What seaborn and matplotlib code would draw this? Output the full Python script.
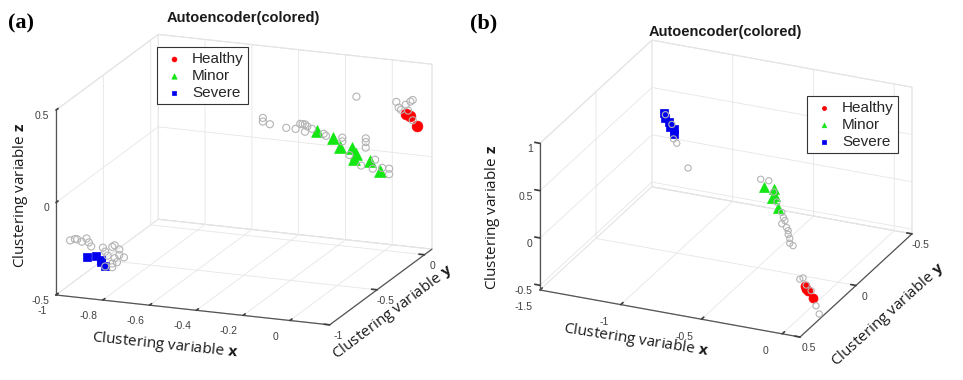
import numpy as np
import matplotlib
matplotlib.use("Agg")
import matplotlib.pyplot as plt
import seaborn as sns
from mpl_toolkits.mplot3d import proj3d
from matplotlib.ticker import FixedLocator, FuncFormatter, NullFormatter

# ---------------- data : panel (a) ----------------
a_gray_x = [-0.46, -0.46, -0.43, -0.36, -0.32, -0.30, -0.29, -0.28, -0.27, -0.28, -0.25, -0.20, -0.19,
            -0.12, -0.12, -0.02, -0.02, -0.02, -0.09, -0.04, 0.02, 0.01, 0.05, 0.08, 0.08, -0.06,
            0.05, 0.06, 0.07, 0.09, 0.11, 0.12, 0.10, 0.12,
            -0.98, -0.96, -0.95, -0.93, -0.91, -0.90, -0.89, -0.84, -0.83, -0.80, -0.79, -0.77,
            -0.77, -0.75, -0.79, -0.80, -0.78, -0.83, -0.80, -0.82]
a_gray_y = [-0.15, -0.15, -0.15, -0.15, -0.15, -0.15, -0.15, -0.15, -0.15, -0.15, -0.15, -0.15, -0.15,
            -0.15, -0.15, -0.15, -0.15, -0.15, -0.15, -0.15, -0.15, -0.15, -0.15, -0.15, -0.15, -0.15,
            0.0, 0.0, 0.0, 0.0, 0.0, 0.0, 0.0, 0.0,
            -0.9, -0.9, -0.9, -0.9, -0.9, -0.9, -0.9, -0.9, -0.9, -0.9, -0.9, -0.9,
            -0.9, -0.9, -0.9, -0.9, -0.9, -0.9, -0.9, -0.9]
a_gray_z = [0.21, 0.19, 0.18, 0.17, 0.17, 0.20, 0.20, 0.20, 0.19, 0.16, 0.18, 0.16, 0.15,
            0.15, 0.13, 0.16, 0.14, 0.11, 0.06, 0.01, 0.05, 0.00, 0.01, 0.01, -0.02, 0.38,
            0.31, 0.28, 0.27, 0.30, 0.32, 0.33, 0.27, 0.22,
            -0.24, -0.23, -0.23, -0.24, -0.22, -0.24, -0.26, -0.26, -0.28, -0.25, -0.24, -0.26,
            -0.29, -0.30, -0.31, -0.34, -0.33, -0.36, -0.36, -0.30]
a_healthy_x = [0.09, 0.11, 0.14]
a_healthy_y = [0.0, 0.0, 0.0]
a_healthy_z = [0.25, 0.24, 0.19]
a_minor_x = [-0.23, -0.16, -0.13, -0.08, -0.06, -0.07, 0.00, 0.04]
a_minor_y = [-0.15, -0.15, -0.15, -0.15, -0.15, -0.15, -0.15, -0.15]
a_minor_z = [0.17, 0.14, 0.10, 0.10, 0.07, 0.04, 0.04, -0.01]
a_severe_x = [-0.91, -0.87, -0.85, -0.85, -0.83]
a_severe_y = [-0.9, -0.9, -0.9, -0.9, -0.9]
a_severe_z = [-0.32, -0.31, -0.33, -0.34, -0.36]

# ---------------- data : panel (b) ----------------
b_gray_x = [-1.07, -1.03, -1.02, -1.00, -0.93,
            -0.48, -0.43, -0.40, -0.38, -0.35, -0.34, -0.35, -0.32, -0.31, -0.30, -0.30, -0.28, -0.33, -0.31,
            -0.03, -0.01, 0.01, 0.04, 0.07, 0.09]
b_gray_y = [0.0, 0.0, 0.0, 0.0, 0.0,
            0.0, 0.0, 0.0, 0.0, 0.0, 0.0, 0.0, 0.0, 0.0, 0.0, 0.0, 0.0, 0.0, 0.0,
            0.3, 0.3, 0.3, 0.3, 0.3, 0.3]
b_gray_z = [0.89, 0.80, 0.65, 0.61, 0.37,
            0.39, 0.39, 0.28, 0.18, 0.08, 0.03, -0.04, -0.07, -0.14, -0.18, -0.23, -0.25, 0.00, -0.10,
            -0.20, -0.18, -0.25, -0.30, -0.45, -0.53]
b_healthy_x = [0.00, 0.02, 0.05, 0.01]
b_healthy_y = [0.3, 0.3, 0.3, 0.3]
b_healthy_z = [-0.26, -0.31, -0.37, -0.29]
b_minor_x = [-0.46, -0.40, -0.39, -0.41, -0.37]
b_minor_y = [0.0, 0.0, 0.0, 0.0, 0.0]
b_minor_z = [0.31, 0.31, 0.24, 0.21, 0.12]
b_severe_x = [-1.08, -1.07, -1.05, -1.04, -1.02, -1.02]
b_severe_y = [0.0, 0.0, 0.0, 0.0, 0.0, 0.0]
b_severe_z = [0.90, 0.86, 0.82, 0.77, 0.75, 0.70]

class_names = ["Healthy", "Minor", "Severe"]
title_text = "Autoencoder(colored)"
a_xticks = [-1, -0.8, -0.6, -0.4, -0.2, 0]
a_yticks = [-1, -0.5, 0]
a_zticks = [-0.5, 0, 0.5]
b_xticks = [-1.5, -1, -0.5, 0]
b_yticks = [-0.5, 0, 0.5]
b_zticks = [-0.5, 0, 0.5, 1]

# ---------------- style ----------------
sns.set_theme(style="white")
plt.rcParams["font.family"] = ["Liberation Sans", "DejaVu Sans"]
plt.rcParams["axes.unicode_minus"] = False
plt.rcParams["mathtext.fontset"] = "custom"
plt.rcParams["mathtext.rm"] = "Open Sans"
plt.rcParams["mathtext.bf"] = "Open Sans:bold"

palette = sns.color_palette(["#ff0000", "#14e614", "#0000ee"])
GRAY = "#b4b4b4"
TICK_COLOR = "#404040"

W, H = 963, 380
fig = plt.figure(figsize=(W / 100, H / 100), dpi=100)


def style_axes(ax, xt, yt, zt):
    fmt = FuncFormatter(lambda v, _: f"{v:g}")
    for axis, t in ((ax.xaxis, xt), (ax.yaxis, yt), (ax.zaxis, zt)):
        axis.set_major_locator(FixedLocator(t))
        axis.set_major_formatter(fmt)
        axis.set_pane_color((1, 1, 1, 1))
        axis.pane.set_edgecolor("#dedede")
        axis.pane.set_linewidth(0.8)
        axis._axinfo["grid"]["color"] = "#e6e6e6"
        axis._axinfo["grid"]["linewidth"] = 0.6
        axis._axinfo["tick"]["inward_factor"] = 0.0
        axis._axinfo["tick"]["outward_factor"] = 0.25
        axis.line.set_color("#555555")
        axis.line.set_linewidth(0.9)
    ax.tick_params(labelsize=7.5, colors=TICK_COLOR, pad=-3)
    ax.zaxis.set_tick_params(pad=-5)
    for lab in ax.zaxis.get_majorticklabels():
        lab.set_horizontalalignment("right")
    # x tick labels are placed by hand along the depth direction (MATLAB style)
    ax.xaxis.set_major_formatter(NullFormatter())
    ax.xaxis.set_tick_params(labelbottom=False, labeltop=False)
    ax.set_xlabel("")
    ax.set_ylabel("")
    ax.set_zlabel("")
    ax.patch.set_alpha(0)


def x_ticklabels(ax, ticks, y_at, z_at):
    # project the 3D anchor of each label and place it as plain 2D text
    M = ax.get_proj()
    for v in ticks:
        x2, y2, _ = proj3d.proj_transform(v, y_at, z_at, M)
        ax.text2D(x2, y2, f"{v:g}", transform=ax.transData, fontsize=7.5,
                  color=TICK_COLOR, ha="center", va="center", zorder=10)


def draw_panel(ax, gx, gy, gz, classes, sizes):
    ax.scatter(gx, gy, gz, marker="o", s=sizes[0], facecolors="none",
               edgecolors=GRAY, linewidths=0.8, depthshade=False)
    markers = ["o", "^", "s"]
    handles = []
    for (cx, cy, cz), m, c, s, name in zip(classes, markers, palette, sizes[1:], class_names):
        h = ax.scatter(cx, cy, cz, marker=m, s=s, color=c, edgecolors=c,
                       linewidths=0.5, depthshade=False, label=name)
        handles.append(h)
    return handles


def put_z_left(ax):
    best = None
    for pos in ("lower", "upper"):
        try:
            ax.zaxis.set_ticks_position(pos)
            ax.zaxis.set_label_position(pos)
        except Exception:
            return
        fig.canvas.draw()
        xd = float(np.mean(ax.zaxis.line.get_xdata()))
        if best is None or xd < best[0]:
            best = (xd, pos)
    ax.zaxis.set_ticks_position(best[1])
    ax.zaxis.set_label_position(best[1])


def fit(ax, A3, C3, tA, tC):
    fig.canvas.draw()
    M = ax.get_proj()

    def pix(p):
        x2, y2, _ = proj3d.proj_transform(p[0], p[1], p[2], M)
        return np.array(ax.transData.transform((x2, y2)))

    bb = ax.get_position()
    S0 = bb.width * W
    C0 = np.array([(bb.x0 + bb.width / 2) * W, (bb.y0 + bb.height / 2) * H])
    uA = (pix(A3) - C0) / S0
    uC = (pix(C3) - C0) / S0
    ta = np.array([tA[0], H - tA[1]])
    tc = np.array([tC[0], H - tC[1]])
    S = (tc[0] - ta[0]) / (uC[0] - uA[0])
    C = ta - S * uA
    ax.set_position([(C[0] - S / 2) / W, (C[1] - S / 2) / H, S / W, S / H])


def ftext(x, y, s, **kw):
    return fig.text(x / W, 1 - y / H, s, **kw)


# ---------------- panel (a) ----------------
axa = fig.add_axes([0.0, 0.0, H / W, 1.0], projection="3d", proj_type="ortho")
axa.set_xlim(-1, 0.17)
axa.set_ylim(-1, 0.08)
axa.set_zlim(-0.5, 0.5)
axa.view_init(elev=16.5, azim=-69.0)
axa.set_box_aspect((1.52, 1.48, 1.0))
style_axes(axa, a_xticks, a_yticks, a_zticks)
ha = draw_panel(axa, a_gray_x, a_gray_y, a_gray_z,
                [(a_healthy_x, a_healthy_y, a_healthy_z),
                 (a_minor_x, a_minor_y, a_minor_z),
                 (a_severe_x, a_severe_y, a_severe_z)],
                [26, 60, 72, 32])

# ---------------- panel (b) ----------------
axb = fig.add_axes([0.5, 0.0, H / W, 1.0], projection="3d", proj_type="ortho")
axb.set_xlim(-1.5, 0.11)
axb.set_ylim(0.5, -0.5)
axb.set_zlim(-0.55, 1.0)
axb.view_init(elev=24.1, azim=-66.1)
axb.set_box_aspect((1.77, 1.72, 1.0))
style_axes(axb, b_xticks, b_yticks, b_zticks)
hb = draw_panel(axb, b_gray_x, b_gray_y, b_gray_z,
                [(b_healthy_x, b_healthy_y, b_healthy_z),
                 (b_minor_x, b_minor_y, b_minor_z),
                 (b_severe_x, b_severe_y, b_severe_z)],
                [20, 42, 52, 30])

put_z_left(axa)
put_z_left(axb)
fit(axa, (-1, -1, -0.5), (0.17, 0.08, -0.5), (56, 295), (432, 250))
fit(axb, (-1.5, 0.5, -0.55), (0.11, -0.5, -0.55), (540, 290), (912, 234))

x_ticklabels(axa, a_xticks, -1.15, -0.53)
x_ticklabels(axb, b_xticks, 0.65, -0.57)

# ---------------- texts ----------------
lab_kw = dict(family=["Open Sans", "DejaVu Sans"], fontsize=11, color="#1a1a1a",
              ha="center", va="center", rotation_mode="anchor")
ftext(165, 345, r"Clustering variable $\mathbf{x}$", rotation=-6, **lab_kw)
ftext(393, 312, r"Clustering variable $\mathbf{y}$", rotation=37, **lab_kw)
ftext(20, 195, r"Clustering variable $\mathbf{z}$", rotation=90, **lab_kw)
ftext(636, 340, r"Clustering variable $\mathbf{x}$", rotation=-9, **lab_kw)
ftext(888, 315, r"Clustering variable $\mathbf{y}$", rotation=42, **lab_kw)
ftext(492, 217, r"Clustering variable $\mathbf{z}$", rotation=90, **lab_kw)

ftext(243, 18, title_text, fontsize=10.5, fontweight="bold", ha="center", va="center", color="#1a1a1a")
ftext(725, 32, title_text, fontsize=10.5, fontweight="bold", ha="center", va="center", color="#1a1a1a")

ftext(8, 23, "(a)", family=["Liberation Serif", "DejaVu Serif"], fontsize=16, fontweight="bold",
      ha="left", va="center", color="black")
ftext(470, 23, "(b)", family=["Liberation Serif", "DejaVu Serif"], fontsize=16, fontweight="bold",
      ha="left", va="center", color="black")

leg_kw = dict(loc="upper left", fontsize=11, frameon=True, fancybox=False, framealpha=1,
              edgecolor="#333333", handlelength=1.6, handletextpad=0.4, borderpad=0.3,
              labelspacing=0.2, markerscale=0.45, scatterpoints=1, borderaxespad=0)
la = fig.legend(handles=ha, labels=class_names, bbox_to_anchor=(157 / W, 1 - 47 / H), **leg_kw)
lb = fig.legend(handles=hb, labels=class_names, bbox_to_anchor=(807 / W, 1 - 96 / H), **leg_kw)
for lg in (la, lb):
    lg.get_frame().set_linewidth(0.8)

fig.savefig("out.png", dpi=100)
